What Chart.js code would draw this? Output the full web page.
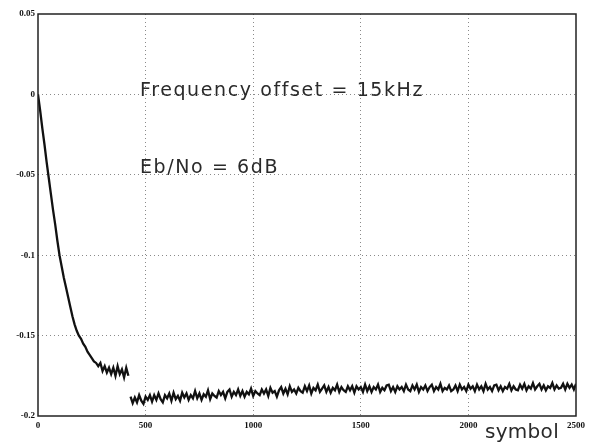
<!DOCTYPE html>
<html>
<head>
<meta charset="utf-8">
<script src="https://cdn.jsdelivr.net/npm/chart.js@4/dist/chart.umd.min.js"></script>
<style>
  html, body { margin: 0; padding: 0; background: #ffffff; }
  #c { display: block; }
</style>
</head>
<body>
<canvas id="c" width="596" height="447"></canvas>
<script>
// ---- data ----
const symbolStep = 10;
const decayStart = 0;      // first symbol of the transient segment
const plateauStart = 430;  // first symbol after the jump

const decayValues = [
  0.000, -0.010, -0.021, -0.031, -0.042, -0.052, -0.062, -0.072, -0.081, -0.091,
  -0.100, -0.107, -0.114, -0.120, -0.126, -0.132, -0.138, -0.143, -0.147, -0.150,
  -0.152, -0.155, -0.157, -0.160, -0.162, -0.164, -0.166, -0.167, -0.169, -0.167,
  -0.172, -0.169, -0.173, -0.170, -0.174, -0.170, -0.175, -0.169, -0.174, -0.171,
  -0.176, -0.170, -0.175
];

const plateauValues = [
  -0.1880, -0.1920, -0.1885, -0.1915, -0.1870, -0.1905, -0.1925, -0.1880, -0.1900, -0.1870,
  -0.1910, -0.1870, -0.1900, -0.1860, -0.1895, -0.1915, -0.1870, -0.1890, -0.1860, -0.1905,
  -0.1855, -0.1895, -0.1875, -0.1905, -0.1855, -0.1885, -0.1860, -0.1900, -0.1870, -0.1890,
  -0.1845, -0.1890, -0.1860, -0.1900, -0.1865, -0.1880, -0.1840, -0.1895, -0.1860, -0.1875,
  -0.1885, -0.1845, -0.1870, -0.1850, -0.1890, -0.1850, -0.1835, -0.1880, -0.1850, -0.1870,
  -0.1835, -0.1875, -0.1845, -0.1880, -0.1850, -0.1865, -0.1830, -0.1875, -0.1845, -0.1860,
  -0.1870, -0.1835, -0.1860, -0.1835, -0.1875, -0.1825, -0.1855, -0.1845, -0.1880, -0.1840,
  -0.1820, -0.1860, -0.1830, -0.1865, -0.1815, -0.1850, -0.1835, -0.1860, -0.1825, -0.1845,
  -0.1855, -0.1815, -0.1845, -0.1810, -0.1860, -0.1825, -0.1840, -0.1805, -0.1850, -0.1830,
  -0.1810, -0.1850, -0.1820, -0.1855, -0.1825, -0.1840, -0.1805, -0.1850, -0.1820, -0.1840,
  -0.1850, -0.1815, -0.1840, -0.1815, -0.1855, -0.1815, -0.1835, -0.1820, -0.1850, -0.1805,
  -0.1845, -0.1815, -0.1850, -0.1820, -0.1835, -0.1805, -0.1850, -0.1825, -0.1840, -0.1810,
  -0.1805, -0.1845, -0.1820, -0.1850, -0.1815, -0.1835, -0.1820, -0.1845, -0.1805, -0.1835,
  -0.1845, -0.1810, -0.1835, -0.1805, -0.1850, -0.1820, -0.1835, -0.1810, -0.1845, -0.1820,
  -0.1805, -0.1845, -0.1820, -0.1835, -0.1800, -0.1845, -0.1825, -0.1835, -0.1810, -0.1845,
  -0.1835, -0.1810, -0.1845, -0.1805, -0.1835, -0.1820, -0.1845, -0.1805, -0.1830, -0.1815,
  -0.1845, -0.1805, -0.1835, -0.1815, -0.1845, -0.1800, -0.1835, -0.1820, -0.1845, -0.1810,
  -0.1805, -0.1840, -0.1815, -0.1845, -0.1820, -0.1830, -0.1800, -0.1840, -0.1815, -0.1835,
  -0.1840, -0.1805, -0.1830, -0.1800, -0.1840, -0.1815, -0.1830, -0.1795, -0.1835, -0.1815,
  -0.1800, -0.1835, -0.1810, -0.1840, -0.1815, -0.1825, -0.1795, -0.1835, -0.1810, -0.1830,
  -0.1825, -0.1800, -0.1835, -0.1800, -0.1825, -0.1805, -0.1835, -0.1800
];

const xTickValues = [0, 500, 1000, 1500, 2000, 2500];
const xTickLabels = ['0', '500', '1000', '1500', '2000', '2500'];
const yTickValues = [0.05, 0, -0.05, -0.1, -0.15, -0.2];
const yTickLabels = ['0.05', '0', '-0.05', '-0.1', '-0.15', '-0.2'];

const annotationTexts = ['Frequency offset = 15kHz', 'Eb/No = 6dB'];
const annotationX = [474, 474];
const annotationY = [0.002, -0.0457];
const xAxisTitle = 'symbol';

// ---- build datasets ----
const toPoints = (vals, start) => vals.map((v, i) => ({ x: start + i * symbolStep, y: v }));

const frameAndText = {
  id: 'frameAndText',
  afterDraw(chart) {
    const { ctx, chartArea: a, scales: { x, y } } = chart;
    ctx.save();
    ctx.strokeStyle = '#222';
    ctx.lineWidth = 1.5;
    ctx.strokeRect(a.left, a.top, a.right - a.left, a.bottom - a.top);
    ctx.fillStyle = '#2a2a2a';
    ctx.font = '19px "DejaVu Sans"';
    ctx.textBaseline = 'middle';
    ctx.textAlign = 'left';
    try { ctx.letterSpacing = '1.6px'; } catch (e) {}
    annotationTexts.forEach((t, i) => {
      ctx.fillText(t, x.getPixelForValue(annotationX[i]), y.getPixelForValue(annotationY[i]));
    });
    ctx.font = '20px "DejaVu Sans"';
    try { ctx.letterSpacing = '0.3px'; } catch (e) {}
    ctx.fillText(xAxisTitle, x.getPixelForValue(2077), a.bottom + 17);
    ctx.restore();
  }
};

const gridColor = (edgeA, edgeB) => (c) =>
  (c.tick && (c.tick.value === edgeA || c.tick.value === edgeB)) ? 'rgba(0,0,0,0)' : '#8a8a8a';

new Chart(document.getElementById('c'), {
  type: 'line',
  data: {
    datasets: [
      { data: toPoints(decayValues, decayStart), borderColor: '#111', borderWidth: 2.3, pointRadius: 0, tension: 0 },
      { data: toPoints(plateauValues, plateauStart), borderColor: '#111', borderWidth: 2.3, pointRadius: 0, tension: 0 }
    ]
  },
  options: {
    responsive: false,
    animation: false,
    devicePixelRatio: 1,
    layout: { padding: { top: 14, right: 20, left: 0, bottom: 0 } },
    plugins: { legend: { display: false }, tooltip: { enabled: false } },
    scales: {
      x: {
        type: 'linear',
        min: 0, max: 2500,
        afterBuildTicks: (s) => { s.ticks = xTickValues.map(v => ({ value: v })); },
        afterFit: (s) => { s.height = 31; },
        ticks: {
          autoSkip: false, maxRotation: 0, padding: 4,
          color: '#111',
          font: { family: '"Liberation Serif"', size: 9, weight: 'bold' },
          callback: (v) => xTickLabels[xTickValues.indexOf(v)]
        },
        grid: { color: gridColor(0, 2500), lineWidth: 1, drawTicks: false },
        border: { display: false, dash: [1, 3] }
      },
      y: {
        type: 'linear',
        min: -0.2, max: 0.05,
        afterBuildTicks: (s) => { s.ticks = yTickValues.map(v => ({ value: v })); },
        afterFit: (s) => { s.width = 38; },
        ticks: {
          autoSkip: false, padding: 3,
          color: '#111',
          font: { family: '"Liberation Serif"', size: 9, weight: 'bold' },
          callback: (v) => yTickLabels[yTickValues.findIndex(t => Math.abs(t - v) < 1e-9)]
        },
        grid: { color: gridColor(0.05, -0.2), lineWidth: 1, drawTicks: false },
        border: { display: false, dash: [1, 3] }
      }
    }
  },
  plugins: [frameAndText]
});
</script>
</body>
</html>
